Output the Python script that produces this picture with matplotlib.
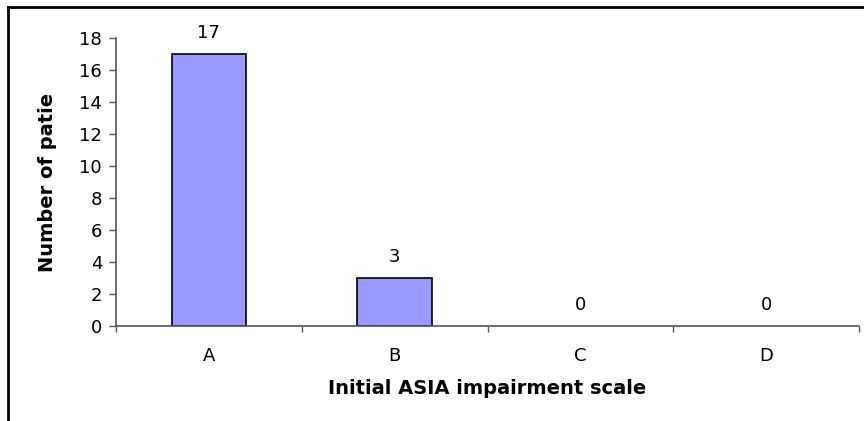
import matplotlib
matplotlib.use("Agg")
import matplotlib.pyplot as plt
from matplotlib.lines import Line2D
from matplotlib.patches import Rectangle

# Data
categories = ["A", "B", "C", "D"]
patients = [17, 3, 0, 0]

bar_color = "#9999FF"
axis_color = "#555555"

fig = plt.figure(figsize=(8.64, 4.21), dpi=100)
ax = fig.add_axes([116 / 864, (421 - 326) / 421, (859 - 116) / 864, (326 - 38) / 421])

x = list(range(len(categories)))
bars = ax.bar(x, patients, width=0.4, color=bar_color, edgecolor="black", linewidth=1.2)
for b, v in zip(bars, patients):
    if v == 0:
        b.set_linewidth(0)

for xi, v in zip(x, patients):
    ax.annotate(str(v), (xi, v), xytext=(0, 15), textcoords="offset points",
                ha="center", va="center", fontsize=13)

ax.set_xlim(-0.5, len(categories) - 0.5)
ax.set_ylim(0, 18)
ax.set_yticks(range(0, 19, 2))
ax.tick_params(axis="y", labelsize=13, length=5, width=1, color=axis_color, pad=5)

ax.set_xticks(x)
ax.set_xticklabels(categories)
ax.tick_params(axis="x", which="major", length=0, labelsize=13, pad=15)
ax.set_xticks([i - 0.5 for i in range(len(categories) + 1)], minor=True)
ax.tick_params(axis="x", which="minor", length=4, width=1, color=axis_color)

for side in ["top", "right"]:
    ax.spines[side].set_visible(False)
for side in ["left", "bottom"]:
    ax.spines[side].set_color(axis_color)
    ax.spines[side].set_linewidth(1.2)

ax.set_xlabel("Initial ASIA impairment scale", fontsize=14, fontweight="bold", labelpad=10)

# y label is cut off at the top in the original
fig.text(48 / 864, (421 - 272) / 421, "Number of patients", rotation=90,
         ha="center", va="bottom", fontsize=14, fontweight="bold", zorder=3)
fig.add_artist(Rectangle((25 / 864, (421 - 93) / 421), 50 / 864, 80 / 421,
                         transform=fig.transFigure, facecolor="white",
                         edgecolor="none", zorder=4))

# outer frame (top and left edges visible)
fig.add_artist(Line2D([8 / 864, 1], [1 - 6.5 / 421, 1 - 6.5 / 421], transform=fig.transFigure,
                      color="black", linewidth=2, zorder=5))
fig.add_artist(Line2D([8 / 864, 8 / 864], [0, 1 - 6.5 / 421], transform=fig.transFigure,
                      color="black", linewidth=2, zorder=5))

fig.savefig("out.png", dpi=100)
